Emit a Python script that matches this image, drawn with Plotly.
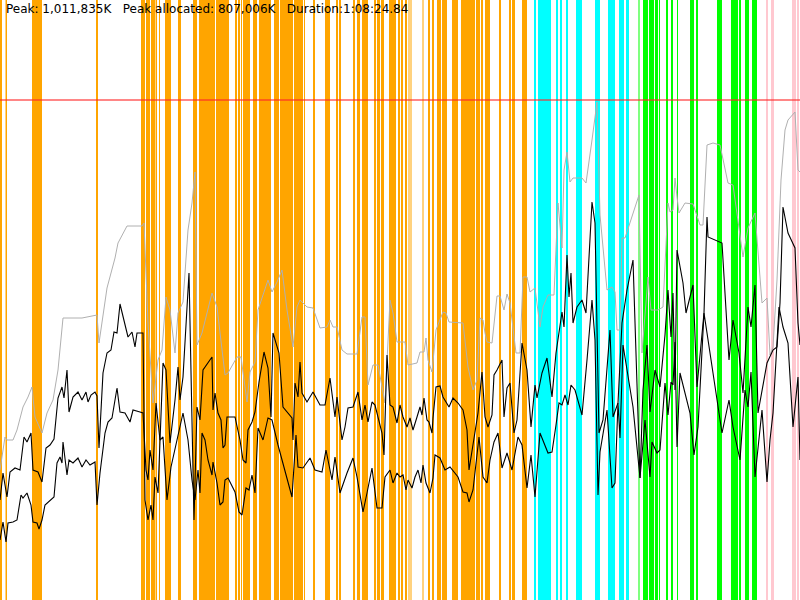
import plotly.graph_objects as go

# memory profile: time steps 0..800, memory in units where the peak (1,011,835K) is 500
peak_level = 500

orange_bands = [(0, 2), (6, 7), (32, 42), (96, 98), (141, 145), (146, 150), (151, 155),
                (155.5, 157), (159, 160), (165, 171), (178, 181), (193, 197), (199, 215),
                (216, 229), (235, 237), (238, 240), (241, 242), (243, 250), (253, 257),
                (259, 271), (274, 279), (280, 293), (294, 303), (304, 305), (313, 315),
                (325, 330), (336, 338), (339, 341), (353, 355), (357, 360), (362, 368),
                (374, 376), (377, 380), (381, 384), (389, 396), (398, 400), (401, 403),
                (405, 407), (428, 430), (432, 434), (437, 441), (442, 447), (452, 458),
                (461, 475), (476, 480), (481, 483), (485, 490), (499, 501), (509, 511),
                (512, 515), (522, 527)]
light_orange_bands = [(5, 6), (408, 412), (422, 424)]
cyan_bands = [(534, 536), (538, 551), (556, 558), (560, 562), (566, 568), (576, 582),
              (595, 600), (608, 615), (619, 624), (626, 629)]
green_bands = [(643, 648), (649, 654), (655, 658), (659, 660), (666, 668), (671, 673),
               (677, 678), (690, 694), (696, 698), (717, 722), (731, 738), (739, 741),
               (745, 749), (752, 757)]
light_green_bands = [(638, 640)]
pink_bands = [(766, 768), (771, 774), (792, 796), (797, 799)]

# gray: total committed
gray_x = [0, 5, 7, 13, 17, 23, 28, 32, 35, 42, 47, 53, 58, 63, 82, 87, 97, 99, 107, 115,
          118, 127, 142, 144, 148, 153, 158, 162, 166, 170, 175, 178, 183, 188, 192, 195,
          197, 202, 212, 217, 225, 228, 237, 241, 247, 250, 255, 258, 268, 272, 277, 282,
          287, 293, 297, 300, 307, 313, 320, 327, 330, 333, 337, 342, 347, 357, 362, 365,
          368, 373, 378, 385, 390, 393, 397, 405, 408, 417, 420, 424, 426, 428, 432, 436,
          443, 446, 449, 463, 468, 473, 477, 480, 483, 485, 487, 492, 497, 500, 504, 507,
          510, 516, 520, 523, 527, 530, 535, 540, 543, 548, 554, 558, 562, 564, 567, 570,
          573, 582, 586, 592, 597, 600, 607, 612, 615, 617, 620, 622, 625, 639, 642, 648,
          651, 658, 663, 668, 670, 673, 675, 677, 679, 685, 693, 700, 703, 707, 713, 720,
          728, 733, 743, 748, 755, 762, 767, 770, 773, 777, 781, 785, 788, 795, 798, 800]
gray_y = [130, 163, 160, 160, 170, 193, 203, 213, 183, 167, 187, 200, 230, 282, 282, 283,
          285, 257, 312, 342, 357, 374, 374, 377, 277, 197, 240, 250, 303, 290, 247, 287,
          298, 370, 397, 428, 255, 267, 307, 293, 225, 227, 243, 243, 198, 228, 238, 290,
          320, 308, 318, 330, 290, 253, 293, 300, 293, 292, 272, 273, 280, 273, 273, 250,
          246, 246, 283, 283, 215, 235, 235, 197, 300, 287, 258, 258, 235, 237, 248, 248,
          262, 240, 228, 270, 288, 287, 278, 277, 233, 210, 220, 282, 280, 267, 258, 257,
          304, 304, 290, 306, 297, 247, 247, 323, 323, 308, 312, 273, 293, 305, 305, 397,
          352, 430, 448, 418, 422, 422, 417, 460, 498, 385, 310, 313, 308, 270, 270, 362,
          362, 405, 247, 323, 290, 290, 293, 397, 388, 390, 422, 403, 387, 397, 396, 375,
          375, 455, 457, 455, 417, 415, 343, 372, 387, 297, 302, 245, 253, 320, 420, 470,
          480, 488, 430, 428]

# black upper: allocated
upper_x = [0, 3, 7, 10, 15, 20, 24, 27, 31, 33, 38, 42, 46, 50, 54, 58, 62, 64, 67, 69,
           73, 78, 82, 86, 88, 91, 95, 97, 99, 103, 107, 111, 114, 117, 120, 123, 126, 128,
           132, 135, 137, 143, 145, 148, 151, 153, 155, 158, 163, 166, 170, 175, 178, 180,
           183, 189, 194, 197, 200, 203, 212, 213, 215, 218, 221, 223, 225, 227, 235, 240,
           243, 246, 248, 252, 255, 259, 264, 268, 271, 273, 279, 283, 292, 293, 295, 298,
           300, 302, 307, 313, 320, 325, 330, 335, 337, 342, 345, 348, 353, 358, 362, 365,
           368, 372, 375, 382, 384, 387, 390, 393, 397, 400, 403, 407, 410, 413, 417, 420,
           422, 424, 427, 429, 432, 433, 436, 440, 443, 449, 453, 458, 463, 467, 469, 473,
           478, 482, 485, 488, 492, 494, 497, 502, 504, 507, 510, 514, 517, 522, 527, 531,
           535, 537, 542, 547, 552, 556, 559, 562, 564, 565, 567, 569, 571, 573, 577, 582,
           586, 592, 595, 599, 603, 610, 613, 618, 622, 627, 633, 640, 643, 647, 650, 655,
           660, 665, 668, 671, 673, 675, 677, 683, 686, 693, 697, 704, 707, 708, 722, 729,
           733, 739, 743, 748, 751, 755, 758, 767, 773, 777, 780, 783, 788, 795, 798, 800]
upper_y = [100, 127, 103, 128, 132, 130, 163, 158, 167, 130, 128, 118, 152, 155, 161, 202,
           213, 202, 230, 188, 203, 208, 200, 208, 198, 205, 208, 204, 152, 227, 247, 250,
           268, 267, 296, 283, 272, 263, 268, 253, 267, 267, 100, 80, 95, 80, 123, 107, 237,
           230, 157, 200, 233, 200, 223, 327, 80, 193, 180, 230, 243, 190, 207, 187, 180,
           152, 155, 183, 183, 160, 140, 137, 170, 178, 188, 218, 248, 232, 183, 267, 247,
           193, 182, 160, 217, 203, 238, 207, 198, 208, 195, 195, 222, 183, 203, 160, 173,
           192, 193, 208, 180, 195, 178, 198, 195, 167, 145, 245, 195, 193, 177, 195, 183,
           173, 182, 170, 183, 193, 185, 202, 180, 178, 167, 182, 213, 214, 203, 193, 202,
           197, 190, 170, 130, 157, 187, 228, 183, 173, 185, 225, 230, 240, 183, 212, 217,
           167, 180, 257, 230, 173, 215, 202, 227, 242, 203, 247, 267, 288, 273, 305, 345,
           303, 327, 277, 293, 300, 287, 398, 377, 167, 180, 270, 183, 197, 277, 310, 340,
           122, 210, 255, 188, 230, 213, 265, 310, 263, 307, 210, 350, 317, 287, 315, 213,
           287, 383, 363, 357, 240, 280, 247, 207, 293, 273, 315, 187, 237, 250, 253, 297,
           393, 367, 352, 277, 255]

# black lower: in use
lower_x = [0, 3, 6, 8, 13, 17, 21, 23, 27, 31, 33, 37, 39, 42, 45, 50, 54, 57, 60, 62, 63,
           67, 69, 73, 78, 82, 86, 90, 95, 97, 100, 105, 108, 112, 117, 120, 125, 130, 133,
           140, 143, 146, 148, 150, 153, 156, 160, 163, 167, 171, 177, 183, 188, 192, 195,
           198, 200, 202, 205, 208, 212, 213, 217, 220, 223, 225, 228, 235, 239, 242, 246,
           249, 252, 255, 258, 263, 268, 272, 278, 285, 292, 296, 298, 303, 310, 315, 322,
           326, 332, 335, 340, 347, 353, 357, 363, 367, 372, 377, 382, 385, 390, 393, 397,
           400, 403, 406, 408, 412, 415, 418, 421, 423, 426, 430, 433, 435, 440, 445, 450,
           458, 463, 467, 469, 473, 479, 483, 487, 490, 494, 498, 502, 507, 512, 518, 522,
           527, 531, 535, 540, 548, 552, 556, 559, 562, 565, 568, 571, 575, 582, 587, 592,
           595, 598, 600, 607, 612, 615, 618, 620, 623, 627, 633, 640, 645, 650, 652, 657,
           660, 665, 668, 671, 673, 675, 677, 680, 683, 688, 690, 694, 698, 704, 707, 722,
           729, 733, 740, 745, 748, 751, 755, 762, 767, 770, 773, 779, 783, 788, 793, 798, 800]
lower_y = [60, 78, 58, 77, 78, 80, 105, 102, 107, 95, 78, 77, 71, 80, 95, 100, 103, 137,
           143, 137, 158, 125, 140, 137, 142, 133, 140, 135, 138, 95, 127, 167, 178, 182,
           212, 188, 187, 178, 190, 188, 187, 130, 120, 150, 130, 197, 160, 163, 100, 133,
           160, 187, 160, 120, 100, 130, 107, 167, 160, 140, 125, 138, 117, 95, 98, 120, 122,
           108, 88, 85, 112, 110, 125, 107, 172, 160, 182, 180, 155, 130, 103, 165, 133, 132,
           142, 130, 128, 150, 120, 143, 107, 127, 142, 123, 88, 107, 132, 92, 92, 123, 130,
           117, 127, 123, 125, 110, 120, 112, 123, 130, 117, 135, 117, 107, 122, 145, 142,
           130, 133, 123, 108, 107, 98, 110, 163, 123, 117, 140, 158, 167, 132, 147, 130, 163,
           155, 112, 145, 103, 167, 147, 148, 175, 197, 195, 205, 195, 215, 210, 185, 240,
           300, 260, 105, 148, 190, 112, 117, 197, 162, 255, 230, 193, 122, 180, 123, 158,
           147, 150, 217, 185, 218, 215, 258, 153, 227, 215, 197, 187, 145, 173, 287, 267,
           167, 200, 173, 140, 210, 193, 228, 123, 190, 118, 160, 187, 293, 273, 257, 173,
           223, 140]

fig = go.Figure()

band_groups = [
    (orange_bands, '#FFA500'),
    (light_orange_bands, 'rgba(255,165,0,0.5)'),
    (cyan_bands, '#00FFFF'),
    (light_green_bands, 'rgba(0,255,0,0.5)'),
    (green_bands, '#00FF00'),
    (pink_bands, '#FFC8D0'),
]
for bands, colour in band_groups:
    for start, end in bands:
        fig.add_shape(type='rect', xref='x', yref='paper', x0=start, x1=end, y0=0, y1=1,
                      fillcolor=colour, line_width=0, layer='below')

fig.add_trace(go.Scatter(x=gray_x, y=gray_y, mode='lines',
                         line=dict(color='#B0B0B0', width=1), hoverinfo='skip'))
fig.add_trace(go.Scatter(x=upper_x, y=upper_y, mode='lines',
                         line=dict(color='black', width=1.1), hoverinfo='skip'))
fig.add_trace(go.Scatter(x=lower_x, y=lower_y, mode='lines',
                         line=dict(color='black', width=1.1), hoverinfo='skip'))

fig.add_hline(y=peak_level, line_color='rgba(255,40,40,0.75)', line_width=1.5)

gap = '\u00a0' * 3
fig.add_annotation(text='Peak: 1,011,835K' + gap + 'Peak allocated: 807,006K' + gap +
                        'Duration:1:08:24.84',
                   xref='paper', yref='paper', x=0, y=1, xanchor='left', yanchor='top',
                   xshift=4, yshift=0, showarrow=False,
                   font=dict(family='DejaVu Sans', size=12, color='black'))

fig.update_layout(
    width=800, height=600,
    margin=dict(l=0, r=0, t=0, b=0),
    paper_bgcolor='white', plot_bgcolor='white',
    showlegend=False,
    xaxis=dict(range=[0, 800], visible=False, fixedrange=True),
    yaxis=dict(range=[0, 600], visible=False, fixedrange=True),
)

fig.write_html('out.html', config={'displayModeBar': False},
               post_script="document.body.style.margin='0';")
